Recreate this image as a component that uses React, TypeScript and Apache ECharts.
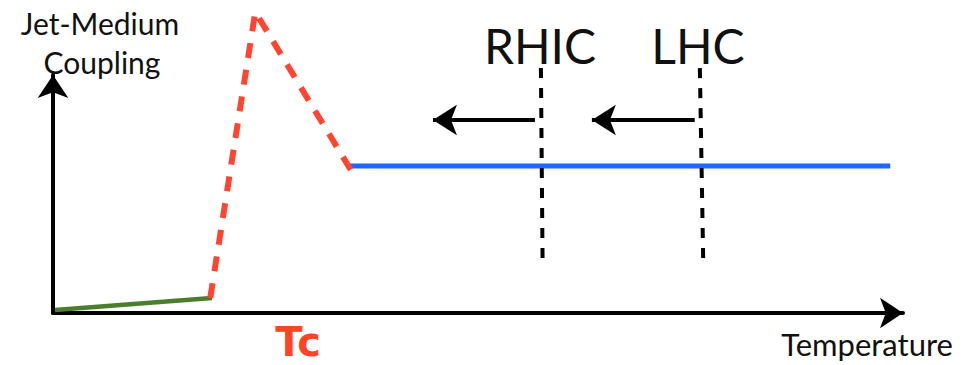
import React, { useEffect, useRef } from "react";
import * as echarts from "echarts";

// Schematic units: temperature 0..100 along x, coupling 0..100 along y
const xRange = [0, 100];
const yRange = [0, 100];

const hadronicGas: number[][] = [[0.24, 1.26], [18.7, 6.3]];
const transitionPeak: number[][] = [[18.5, 6.3], [23.8, 126.5], [35.1, 59.7]];
const qgpPlateau: number[][] = [[34.7, 61.8], [98.5, 61.8]];
const rhicMarker: number[][] = [[57.4, 102.9], [57.6, 21.0]];
const lhcMarker: number[][] = [[76.1, 102.9], [76.5, 21.0]];
const rhicShift: number[][] = [[56.7, 81.1], [44.7, 81.1]];
const lhcShift: number[][] = [[75.5, 81.1], [63.4, 81.1]];

const yTitle = ["Jet-Medium", "Coupling"];
const xTitle = "Temperature";
const tcLabel = "Tc";
const colliderLabels = ["RHIC", "LHC"];

const FONT = "Lato, 'Open Sans', sans-serif";

export default function App() {
  const ref = useRef<HTMLDivElement>(null);

  useEffect(() => {
    if (!ref.current) return;
    const chart = echarts.init(ref.current, null, { renderer: "svg" });

    const arrowData = (pts: number[][]) => [
      { value: pts[0], symbol: "none" },
      { value: pts[1], symbol: "arrow", symbolSize: [23, 24], symbolRotate: 90 },
    ];

    const axisCommon = {
      type: "value" as const,
      axisTick: { show: false },
      axisLabel: { show: false },
      splitLine: { show: false },
      axisLine: {
        show: true,
        symbol: ["none", "arrow"],
        symbolSize: [23, 23],
        lineStyle: { color: "#000", width: 4 },
      },
    };

    chart.setOption({
      animation: false,
      backgroundColor: "#fff",
      grid: { left: 53, right: 61, top: 75, bottom: 52 },
      xAxis: { ...axisCommon, min: xRange[0], max: xRange[1] },
      yAxis: { ...axisCommon, min: yRange[0], max: yRange[1] },
      series: [
        {
          type: "line",
          data: hadronicGas,
          symbol: "none",
          clip: false,
          lineStyle: { color: "#4a7d2c", width: 4.5 },
        },
        {
          type: "line",
          data: qgpPlateau,
          symbol: "none",
          clip: false,
          lineStyle: { color: "#1d66ff", width: 5 },
        },
        {
          type: "line",
          data: transitionPeak,
          symbol: "none",
          clip: false,
          lineStyle: { color: "#ff4532", width: 6, type: [15, 12], cap: "butt" },
        },
        {
          type: "line",
          data: rhicMarker,
          symbol: "none",
          clip: false,
          lineStyle: { color: "#000", width: 4, type: [10, 10] },
        },
        {
          type: "line",
          data: lhcMarker,
          symbol: "none",
          clip: false,
          lineStyle: { color: "#000", width: 4, type: [10, 10] },
        },
        {
          type: "line",
          data: arrowData(rhicShift),
          symbol: "none",
          showSymbol: true,
          clip: false,
          itemStyle: { color: "#000" },
          lineStyle: { color: "#000", width: 4 },
        },
        {
          type: "line",
          data: arrowData(lhcShift),
          symbol: "none",
          showSymbol: true,
          clip: false,
          itemStyle: { color: "#000" },
          lineStyle: { color: "#000", width: 4 },
        },
      ],
      graphic: [
        {
          type: "text",
          style: { text: yTitle[0], x: 100, y: 23, font: `30px ${FONT}`, fill: "#111", textAlign: "center", textVerticalAlign: "middle" },
        },
        {
          type: "text",
          style: { text: yTitle[1], x: 102, y: 62, font: `30px ${FONT}`, fill: "#111", textAlign: "center", textVerticalAlign: "middle" },
        },
        {
          type: "text",
          style: { text: colliderLabels[0], x: 540, y: 45, font: `48px ${FONT}`, fill: "#111", textAlign: "center", textVerticalAlign: "middle" },
        },
        {
          type: "text",
          style: { text: colliderLabels[1], x: 698, y: 45, font: `48px ${FONT}`, fill: "#111", textAlign: "center", textVerticalAlign: "middle" },
        },
        {
          type: "text",
          style: { text: tcLabel, x: 298, y: 342, font: `bold 40px 'DejaVu Sans', sans-serif`, fill: "#ff4426", textAlign: "center", textVerticalAlign: "middle" },
        },
        {
          type: "text",
          style: { text: xTitle, x: 953, y: 344, font: `31px ${FONT}`, fill: "#111", textAlign: "right", textVerticalAlign: "middle" },
        },
      ],
    });

    return () => chart.dispose();
  }, []);

  return (
    <div
      ref={ref}
      style={{ position: "absolute", left: 0, top: 0, width: 964, height: 365, background: "#fff" }}
    />
  );
}
